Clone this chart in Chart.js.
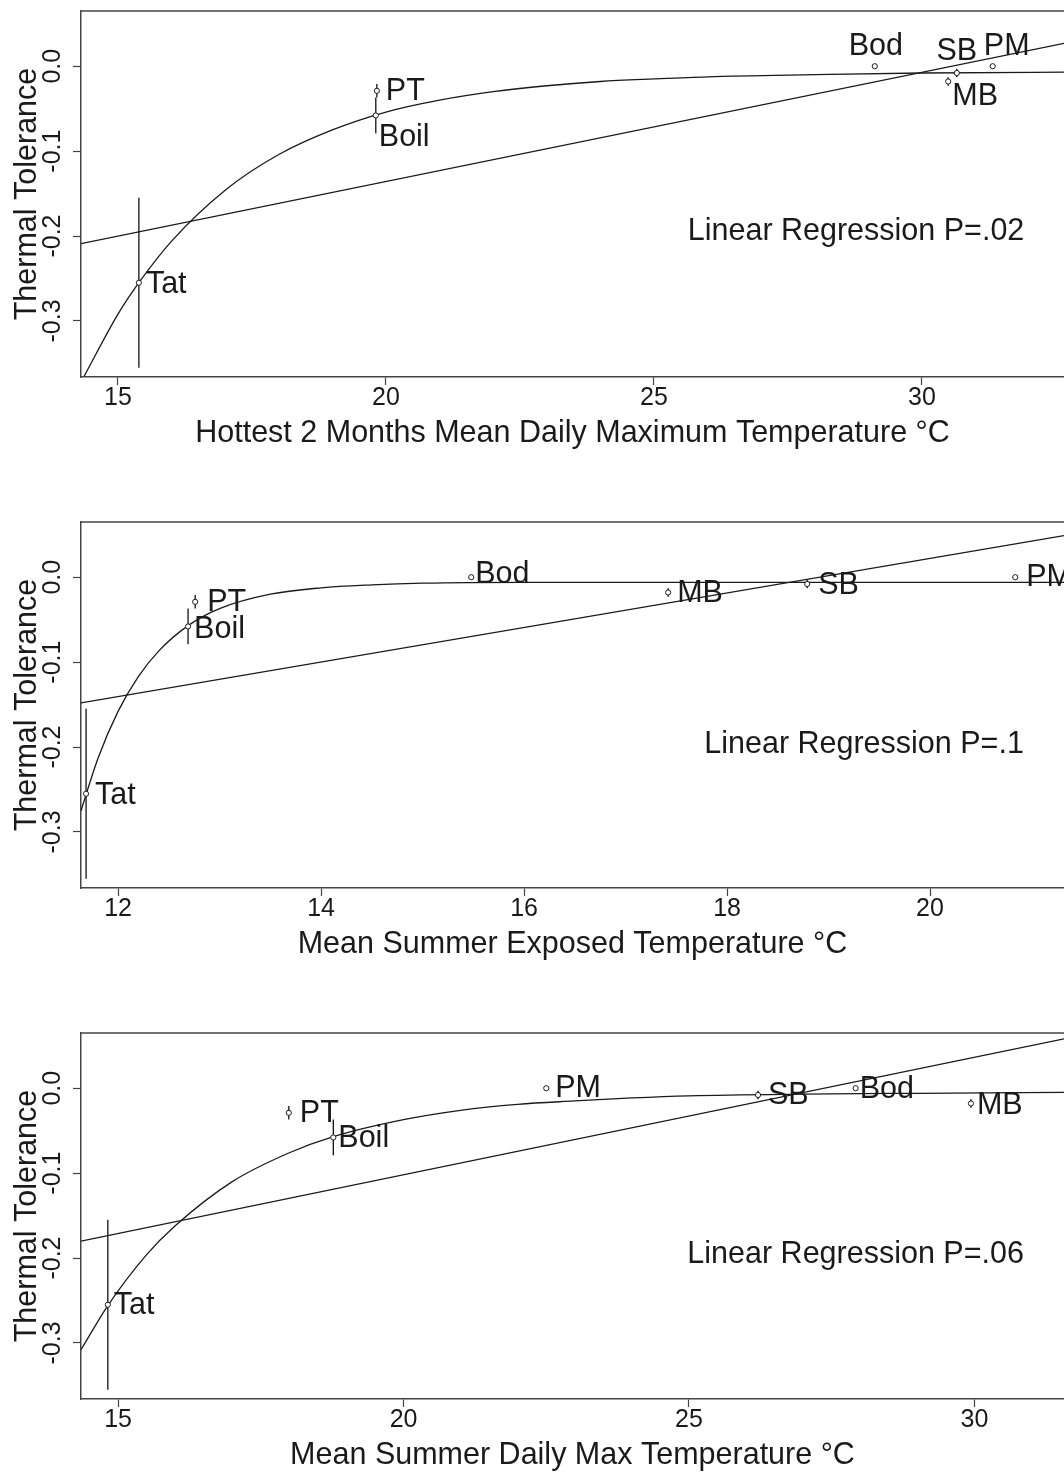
<!DOCTYPE html>
<html>
<head>
<meta charset="utf-8">
<script src="https://cdn.jsdelivr.net/npm/chart.js@4"></script>
<style>
  body { margin: 0; background: #fff; overflow: hidden; }
  .panel { position: relative; width: 1064px; height: 511px; }
</style>
</head>
<body>
<div class="panel"><canvas id="chart1"></canvas></div>
<div class="panel"><canvas id="chart2"></canvas></div>
<div class="panel"><canvas id="chart3"></canvas></div>
<script>
// sites, tolerance and its standard error (same for all 3 panels)
const sites = ['Tat', 'PT', 'Boil', 'Bod', 'SB', 'PM', 'MB'];
const tolerance = [-0.255, -0.029, -0.058, 0.0, -0.008, 0.0, -0.018];
const toleranceSE = [0.100, 0.008, 0.021, 0, 0.005, 0, 0.005];

// temperature of each site, one array per panel
const hottest2Max = [15.39, 19.83, 19.81, 29.12, 30.65, 31.32, 30.49];
const summerExposed = [11.685, 12.76, 12.69, 15.48, 18.79, 20.84, 17.42];
const summerDailyMax = [14.82, 17.99, 18.77, 27.92, 26.21, 22.50, 29.94];

// saturating fit curves
const fit1X = [14.37, 15, 15.39, 16, 17, 18, 19, 20, 21, 22, 23, 24, 25, 26, 28, 30, 33];
const fit1Y = [-0.365, -0.292, -0.255, -0.206, -0.146, -0.104, -0.075, -0.054, -0.040, -0.030, -0.023, -0.018, -0.015, -0.0125, -0.010, -0.008, -0.007];
const fit2X = [11.635, 11.8, 12, 12.2, 12.4, 12.69, 13, 13.5, 14, 14.5, 15, 16, 21.32];
const fit2Y = [-0.275, -0.214, -0.158, -0.117, -0.087, -0.057, -0.037, -0.020, -0.0125, -0.009, -0.007, -0.006, -0.006];
const fit3X = [14.35, 14.82, 15.5, 16, 17, 18, 18.77, 20, 21, 22, 23, 24, 25, 27, 29, 31.6];
const fit3Y = [-0.308, -0.256, -0.196, -0.162, -0.110, -0.076, -0.057, -0.037, -0.026, -0.019, -0.015, -0.0115, -0.009, -0.007, -0.006, -0.005];

// linear regression lines (ends at the plot edges)
const lin1X = [14.31, 32.65];
const lin1Y = [-0.209, 0.027];
const lin2X = [11.635, 21.32];
const lin2Y = [-0.148, 0.049];
const lin3X = [14.35, 31.57];
const lin3Y = [-0.180, 0.058];

const yTicks = [-0.3, -0.2, -0.1, 0.0];
const xTicks1 = [15, 20, 25, 30];
const xTicks2 = [12, 14, 16, 18, 20];
const xTicks3 = [15, 20, 25, 30];

const ink = '#1a1a1a';
const frameColor = '#444';
const family = "'Liberation Sans', Arial, sans-serif";

const zip = (xs, ys) => xs.map((v, i) => ({x: v, y: ys[i]}));

// box top, vertical y tick labels, site names and the P value note
const decorations = {
    id: 'decorations',
    afterDraw(chart, args, opts) {
        const {ctx, chartArea: a, scales: {x, y}} = chart;
        ctx.save();
        ctx.strokeStyle = frameColor;
        ctx.lineWidth = 1.5;
        ctx.beginPath();
        ctx.moveTo(a.left, a.top);
        ctx.lineTo(a.right + 5, a.top);
        ctx.stroke();

        ctx.fillStyle = ink;
        ctx.font = '25px ' + family;
        ctx.textAlign = 'center';
        ctx.textBaseline = 'middle';
        y.ticks.forEach(t => {
            ctx.save();
            ctx.translate(53, y.getPixelForValue(t.value));
            ctx.rotate(-Math.PI / 2);
            ctx.fillText(t.value.toFixed(1), 0, 0);
            ctx.restore();
        });

        ctx.font = '30.5px ' + family;
        opts.xs.forEach((xv, i) => {
            const [dx, dy, align] = opts.offsets[sites[i]];
            ctx.textAlign = align;
            ctx.fillText(sites[i], x.getPixelForValue(xv) + dx, y.getPixelForValue(tolerance[i]) + dy);
        });

        ctx.textAlign = 'center';
        ctx.fillText(opts.note.text, x.getPixelForValue(opts.note.x), y.getPixelForValue(opts.note.y));
        ctx.restore();
    }
};

function makePanel(id, xs, fitX, fitY, linX, linY, xMin, xMax, xTicks, xTitle, note, offsets) {
    const datasets = [{
        data: zip(xs, tolerance),
        showLine: false,
        pointRadius: 2.6,
        pointBorderWidth: 1,
        pointBorderColor: ink,
        pointBackgroundColor: '#fff'
    }];
    xs.forEach((xv, i) => {
        if (toleranceSE[i] > 0) {
            datasets.push({
                data: [{x: xv, y: tolerance[i] - toleranceSE[i]}, {x: xv, y: tolerance[i] + toleranceSE[i]}],
                borderColor: '#111',
                borderWidth: 1.3,
                pointRadius: 0
            });
        }
    });
    datasets.push({
        data: zip(fitX, fitY),
        borderColor: ink,
        borderWidth: 1.3,
        pointRadius: 0,
        cubicInterpolationMode: 'monotone'
    });
    datasets.push({
        data: zip(linX, linY),
        borderColor: ink,
        borderWidth: 1.3,
        pointRadius: 0
    });

    return new Chart(document.getElementById(id), {
        type: 'line',
        data: {datasets: datasets},
        plugins: [decorations],
        options: {
            responsive: true,
            maintainAspectRatio: false,
            animation: false,
            layout: {autoPadding: false, padding: {top: 11, left: 0, right: 0, bottom: 0}},
            plugins: {
                legend: {display: false},
                tooltip: {enabled: false},
                decorations: {xs: xs, note: note, offsets: offsets}
            },
            scales: {
                x: {
                    type: 'linear',
                    min: xMin,
                    max: xMax,
                    afterFit: s => { s.height = 134; },
                    afterBuildTicks: s => { s.ticks = xTicks.map(v => ({value: v})); },
                    grid: {drawOnChartArea: false, drawTicks: true, tickLength: 8, tickColor: frameColor, tickWidth: 1.2},
                    border: {color: frameColor, width: 1.5},
                    ticks: {color: ink, font: {family: family, size: 25}, padding: -2, maxRotation: 0, autoSkip: false},
                    title: {display: true, text: xTitle, color: ink, font: {family: family, size: 30.5}, padding: {top: 0, bottom: 59}}
                },
                y: {
                    type: 'linear',
                    min: -0.366,
                    max: 0.065,
                    afterFit: s => { s.width = 81; },
                    afterBuildTicks: s => { s.ticks = yTicks.map(v => ({value: v})); },
                    grid: {drawOnChartArea: false, drawTicks: true, tickLength: 8, tickColor: frameColor, tickWidth: 1.2},
                    border: {color: frameColor, width: 1.5},
                    ticks: {display: false},
                    title: {display: true, text: 'Thermal Tolerance', color: ink, font: {family: family, size: 30.5}, padding: {top: 9, bottom: 0}}
                }
            }
        }
    });
}

makePanel('chart1', hottest2Max, fit1X, fit1Y, lin1X, lin1Y, 14.31, 32.65, xTicks1,
    'Hottest 2 Months Mean Daily Maximum Temperature °C',
    {text: 'Linear Regression P=.02', x: 28.77, y: -0.195},
    {Tat: [7, 2, 'left'], PT: [9, 1, 'left'], Boil: [3, 22, 'left'], Bod: [1, -20, 'center'],
     SB: [0, -21, 'center'], PM: [14, -20, 'center'], MB: [4, 15, 'left']});

makePanel('chart2', summerExposed, fit2X, fit2Y, lin2X, lin2Y, 11.635, 21.32, xTicks2,
    'Mean Summer Exposed Temperature °C',
    {text: 'Linear Regression P=.1', x: 19.35, y: -0.197},
    {Tat: [9, 2, 'left'], PT: [12, 1, 'left'], Boil: [6, 3, 'left'], Bod: [4, -3, 'left'],
     SB: [11, 2, 'left'], PM: [11, 0, 'left'], MB: [9, 1, 'left']});

makePanel('chart3', summerDailyMax, fit3X, fit3Y, lin3X, lin3Y, 14.35, 31.57, xTicks3,
    'Mean Summer Daily Max Temperature °C',
    {text: 'Linear Regression P=.06', x: 27.92, y: -0.196},
    {Tat: [6, 1, 'left'], PT: [11, 1, 'left'], Boil: [5, 1, 'left'], Bod: [4, 1, 'left'],
     SB: [10, 1, 'left'], PM: [9, 0, 'left'], MB: [6, 2, 'left']});
</script>
</body>
</html>
